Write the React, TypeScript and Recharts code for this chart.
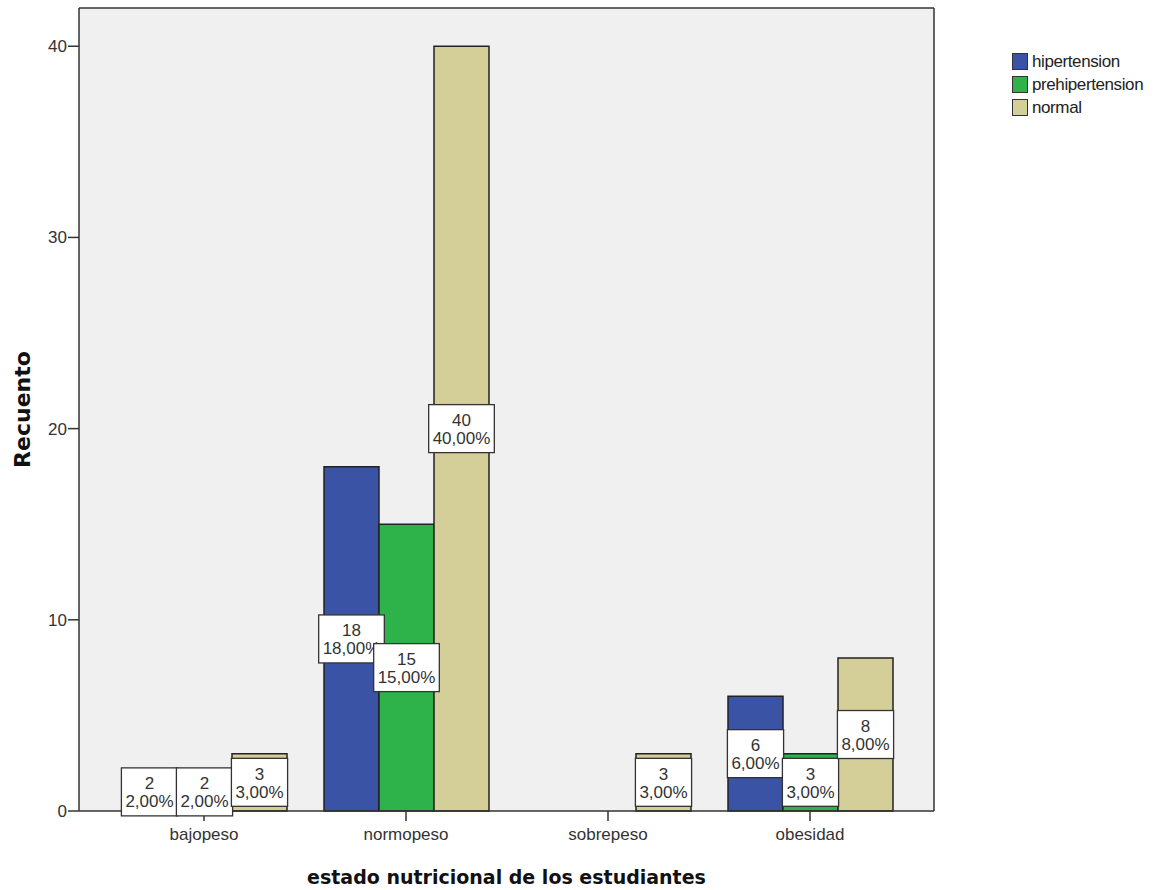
import React from "react";
import {
  BarChart,
  Bar,
  XAxis,
  YAxis,
  CartesianGrid,
  Legend,
  LabelList,
} from "recharts";

// Recuento por estado nutricional (n = 100)
const categories = ["bajopeso", "normopeso", "sobrepeso", "obesidad"];
const hipertension = [2, 18, 0, 6];
const prehipertension = [2, 15, 0, 3];
const normal = [3, 40, 3, 8];
const yTicks = [0, 10, 20, 30, 40];
const totalN = 100;

const series = [
  { key: "hipertension", color: "#3A53A4" },
  { key: "prehipertension", color: "#2EB24A" },
  { key: "normal", color: "#D4CF98" },
];

const data = categories.map((name, i) => ({
  name,
  hipertension: hipertension[i],
  prehipertension: prehipertension[i],
  normal: normal[i],
}));

const AXIS = "#333333";
const FONT = "'Liberation Sans', Arial, sans-serif";
const BOLD_FONT = "'DejaVu Sans', sans-serif";
const X_PADDING = { left: 24, right: 23 };

const pct = (v: number) => ((v / totalN) * 100).toFixed(2).replace(".", ",") + "%";

// rough Arial advance widths, enough to size the value boxes
const textWidth = (s: string, size: number) =>
  s.split("").reduce((w, c) => w + (c === "," ? 0.278 : c === "%" ? 0.889 : 0.556), 0) * size;

const ValueBox = (props: any) => {
  const { x, y, width, height, value } = props;
  if (!value) return null;
  const cx = x + width / 2;
  const cy = y + height / 2;
  const line2 = pct(value);
  const w = Math.max(width + 1, textWidth(line2, 17) + 8);
  return (
    <g>
      <rect x={cx - w / 2} y={cy - 24} width={w} height={48} fill="#fff" stroke={AXIS} strokeWidth={1.3} />
      <text x={cx} y={cy - 8} textAnchor="middle" dominantBaseline="central" fontFamily={FONT} fontSize={17} fill="#333">
        {value}
      </text>
      <text x={cx} y={cy + 10} textAnchor="middle" dominantBaseline="central" fontFamily={FONT} fontSize={17} fill="#333">
        {line2}
      </text>
    </g>
  );
};

const YTitle = (props: any) => {
  const { viewBox } = props;
  const x = viewBox.x + 22;
  const y = viewBox.y + viewBox.height / 2;
  return (
    <text
      x={x}
      y={y}
      transform={`rotate(-90, ${x}, ${y})`}
      textAnchor="middle"
      dominantBaseline="central"
      fontFamily={BOLD_FONT}
      fontWeight="bold"
      fontSize={22}
      fill="#111"
    >
      Recuento
    </text>
  );
};

const LegendBox = () => (
  <div style={{ fontFamily: FONT, fontSize: 17, color: "#222" }}>
    {series.map((s) => (
      <div key={s.key} style={{ display: "flex", alignItems: "center", height: 23 }}>
        <span
          style={{
            display: "inline-block",
            width: 14,
            height: 15,
            background: s.color,
            border: "1.5px solid #333",
            marginRight: 4,
          }}
        />
        <span style={{ letterSpacing: -0.4 }}>{s.key}</span>
      </div>
    ))}
  </div>
);

export default function App() {
  return (
    <div style={{ position: "absolute", left: 0, top: 0, width: 1165, height: 890, background: "#fff" }}>
      <BarChart
        width={1165}
        height={890}
        data={data}
        margin={{ top: 8, right: 81, bottom: 0, left: 0 }}
        barCategoryGap={19}
        barGap={0}
      >
        {/* plot background plus the top and right frame lines */}
        <CartesianGrid
          fill="#F0F0F0"
          fillOpacity={1}
          stroke={AXIS}
          strokeWidth={1.5}
          horizontalCoordinatesGenerator={({ offset }: any) => [offset.top]}
          verticalCoordinatesGenerator={({ offset }: any) => [offset.left + offset.width]}
        />
        <XAxis
          dataKey="name"
          padding={X_PADDING}
          axisLine={{ stroke: AXIS, strokeWidth: 1.5 }}
          tickLine={{ stroke: AXIS, strokeWidth: 1.5 }}
          tickSize={10}
          tickMargin={7}
          tick={{ fontFamily: FONT, fontSize: 17, fill: "#333" }}
          height={79}
          label={{
            value: "estado nutricional de los estudiantes",
            position: "insideBottom",
            offset: 6,
            style: { fontFamily: BOLD_FONT, fontWeight: "bold", fontSize: 19, fill: "#111", textAnchor: "middle" },
          }}
        />
        {/* hidden twin axis: the value boxes sit on it so they paint over every bar */}
        <XAxis xAxisId="labels" dataKey="name" padding={X_PADDING} hide />
        <YAxis
          domain={[0, 42]}
          ticks={yTicks}
          width={79}
          axisLine={{ stroke: AXIS, strokeWidth: 1.5 }}
          tickLine={{ stroke: AXIS, strokeWidth: 1.5 }}
          tickSize={11}
          tickMargin={1}
          tick={{ fontFamily: FONT, fontSize: 17, fill: "#333" }}
          label={<YTitle />}
        />
        <Legend
          layout="vertical"
          verticalAlign="top"
          align="right"
          content={<LegendBox />}
          wrapperStyle={{ position: "absolute", left: 1012, top: 50, width: 150 }}
        />
        {series.map((s) => (
          <Bar key={s.key} dataKey={s.key} fill={s.color} stroke="#222" strokeWidth={1.5} isAnimationActive={false} />
        ))}
        {series.map((s) => (
          <Bar
            key={s.key + "-labels"}
            xAxisId="labels"
            dataKey={s.key}
            fill="none"
            stroke="none"
            legendType="none"
            isAnimationActive={false}
          >
            <LabelList dataKey={s.key} content={<ValueBox />} />
          </Bar>
        ))}
      </BarChart>
    </div>
  );
}
